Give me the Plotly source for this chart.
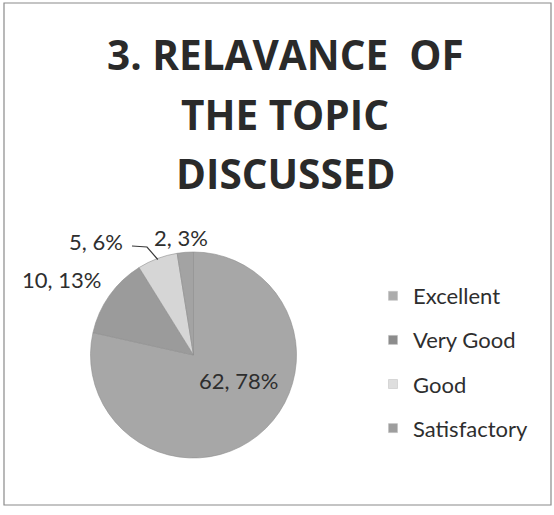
import math
import plotly.graph_objects as go

# Survey responses for "Relevance of the topic discussed"
categories = ["Excellent", "Very Good", "Good", "Satisfactory"]
counts = [62, 10, 5, 2]
title_lines = ["3. RELAVANCE  OF", "THE TOPIC", "DISCUSSED"]
slice_colors = ["#a7a7a7", "#9b9b9b", "#d6d6d6", "#a3a3a3"]
legend_colors = ["#acacac", "#8c8c8c", "#dedede", "#9e9e9e"]

W, H = 554, 515
FONT = "'Open Sans', Lato, sans-serif"
LABEL_FONT = "Lato, 'Open Sans', sans-serif"
TXT = "#2e2e2e"

total = sum(counts)
label_text = [f"{v}, {round(100 * v / total)}%" for v in counts]

# pixel helpers (figure has no margins, so paper == page)
def px(x):
    return x / W

def py(y):
    return 1 - y / H

fig = go.Figure()

# Pie: starts at 12 o'clock, runs clockwise, keeps category order
cx, cy, r = 193.5, 355, 103
fig.add_trace(go.Pie(
    labels=categories,
    values=counts,
    sort=False,
    direction="clockwise",
    rotation=0,
    marker=dict(colors=slice_colors, line=dict(color="#8e8e8e", width=0.6)),
    textinfo="none",
    showlegend=False,
    domain=dict(x=[px(cx - r), px(cx + r)], y=[py(cy + r), py(cy - r)]),
    hoverinfo="label+value+percent",
))

# Slice mid-angles (degrees clockwise from 12 o'clock)
mids, acc = [], 0
for v in counts:
    mids.append((acc + v / 2) / total * 360)
    acc += v

def rim(i, k=1.0):
    a = math.radians(mids[i])
    return cx + k * r * math.sin(a), cy - k * r * math.cos(a)

# Data labels: value, percent
label_pos = [(238, 380), (61, 279), (96, 241), (181, 237)]
annotations = []
for (lx, ly), t in zip(label_pos, label_text):
    annotations.append(dict(
        x=px(lx), y=py(ly), xref="paper", yref="paper", text=t, showarrow=False,
        xanchor="center", yanchor="middle",
        font=dict(family=LABEL_FONT, size=22, color=TXT),
    ))

# Title, one line per annotation for wider line spacing
for line, yc in zip(title_lines, [55, 114, 173]):
    annotations.append(dict(
        x=px(285), y=py(yc), xref="paper", yref="paper", text=f"<b>{line}</b>",
        showarrow=False, xanchor="center", yanchor="middle",
        font=dict(family=FONT, size=40.5, color="#2a2a2a"),
    ))

# Leader line from the "Good" label to its slice
gx, gy = rim(2, 0.99)
shapes = [
    dict(type="path", xref="paper", yref="paper",
         path=f"M {px(132)},{py(246)} L {px(147)},{py(247)} L {px(gx)},{py(gy)}",
         line=dict(color="#3a3a3a", width=1.2)),
    dict(type="rect", xref="paper", yref="paper",
         x0=px(4), x1=px(551), y0=py(505), y1=py(3),
         line=dict(color="#8a8a8a", width=1.2)),
]

# Legend entries, one group each so the rows can be spaced apart
for name, col in zip(categories, legend_colors):
    fig.add_trace(go.Scatter(
        x=[None], y=[None], mode="markers", name=name, legendgroup=name,
        marker=dict(symbol="square", size=9, color=col, line=dict(color="#bdbdbd", width=0.5)),
    ))

fig.update_layout(
    width=W, height=H,
    margin=dict(l=0, r=0, t=0, b=0),
    paper_bgcolor="white", plot_bgcolor="white",
    xaxis=dict(visible=False), yaxis=dict(visible=False),
    legend=dict(
        x=px(373), xanchor="left", y=py(275), yanchor="top",
        font=dict(family=LABEL_FONT, size=22, color=TXT),
        tracegroupgap=12.5, bgcolor="rgba(0,0,0,0)",
        itemwidth=30,
    ),
    annotations=annotations,
    shapes=shapes,
)

fig.write_html("out.html")
